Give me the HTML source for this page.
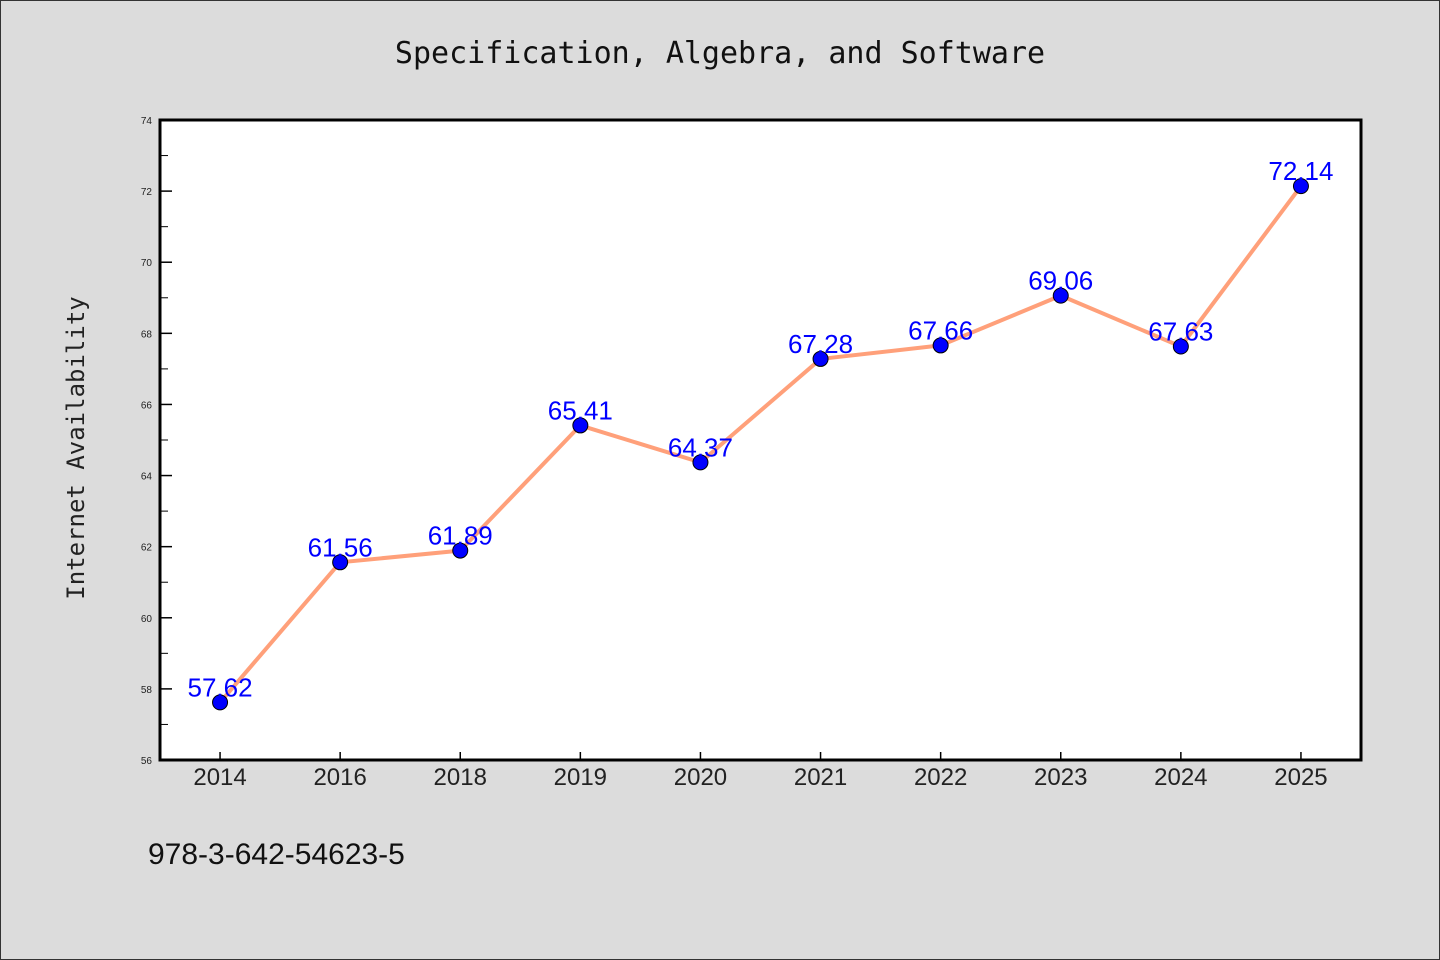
<!DOCTYPE html>
<html><head><meta charset="utf-8"><style>
html,body{margin:0;padding:0;background:#dcdcdc;}
svg{display:block;}
</style></head><body>
<svg id="chart" width="1440" height="960" xmlns="http://www.w3.org/2000/svg">
<rect x="0.5" y="0.5" width="1439" height="959" fill="#dcdcdc" stroke="#333" stroke-width="1"/>
<text x="720" y="63" text-anchor="middle" font-family="'WenQuanYi Zen Hei','DejaVu Sans Mono',monospace" font-size="30" fill="#111">Specification, Algebra, and Software</text>
<rect x="160" y="120" width="1201" height="640" fill="#fff"/>
<g id="grid"></g>
<g id="series"></g>
<rect x="160" y="120" width="1201" height="640" fill="none" stroke="#000" stroke-width="3"/>
<text transform="translate(84,448) rotate(-90)" text-anchor="middle" font-family="'WenQuanYi Zen Hei','DejaVu Sans Mono',monospace" font-size="24" fill="#222">Internet Availability</text>
<text x="148" y="864" font-family="'WenQuanYi Zen Hei','Liberation Sans',sans-serif" font-size="30" fill="#111">978-3-642-54623-5</text>
</svg>
<script>
const categories = ["2014","2016","2018","2019","2020","2021","2022","2023","2024","2025"];
const values = [57.62,61.56,61.89,65.41,64.37,67.28,67.66,69.06,67.63,72.14];
const yTicks = [56,58,60,62,64,66,68,70,72,74];
const yMin = 56, yMax = 74;
const L=160, R=1361, T=120, B=760;
const NS="http://www.w3.org/2000/svg";
function xs(i){ const bw=(R-L)/categories.length; return L+bw*(i+0.5); }
function ys(v){ return B-(v-yMin)/(yMax-yMin)*(B-T); }
function mk(tag,attrs,parent){ const e=document.createElementNS(NS,tag); for(const k in attrs) e.setAttribute(k,attrs[k]); parent.appendChild(e); return e; }
const grid=document.getElementById('grid');
const ser=document.getElementById('series');
yTicks.forEach((t,i)=>{
  const y=ys(t);
  const ln=mk('line',{x1:L,x2:L+12,y1:y,y2:y,stroke:'#000','stroke-width':1.5},grid);
  
  
  const tx=mk('text',{x:L-8,y:y+4,'text-anchor':'end','font-family':"'Liberation Sans',sans-serif",'font-size':10,fill:'#222'},grid);
  tx.textContent=t;
  
  
  if(i<yTicks.length-1){
    const ym=ys(t+(yTicks[1]-yTicks[0])/2);
    const m=mk('line',{x1:L,x2:L+8,y1:ym,y2:ym,stroke:'#000','stroke-width':1},grid);
    
    
  }
});
categories.forEach((c,i)=>{
  const x=xs(i);
  const ln=mk('line',{x1:x,x2:x,y1:B,y2:B-8,stroke:'#000','stroke-width':1.5},grid);
  
  
  const tx=mk('text',{x:x,y:B+25,'text-anchor':'middle','font-family':"'Liberation Sans',sans-serif",'font-size':24,fill:'#222'},grid);
  tx.textContent=c;
  
  
});
const pts=values.map((v,i)=>xs(i)+','+ys(v)).join(' ');
const pl=mk('polyline',{points:pts,fill:'none',stroke:'#FFA07A','stroke-width':4,'stroke-linejoin':'round'},ser);


values.forEach((v,i)=>{
  const c=mk('circle',{cx:xs(i),cy:ys(v),r:7.5,fill:'#0000ff',stroke:'#000','stroke-width':1},ser);
  
  
});
values.forEach((v,i)=>{
  const t=mk('text',{x:xs(i),y:ys(v)-6,'text-anchor':'middle','font-family':"'Liberation Sans',sans-serif",'font-size':26,fill:'#0000ff'},ser);
  t.textContent=v.toFixed(2);
  
  
});
</script>
</body></html>
